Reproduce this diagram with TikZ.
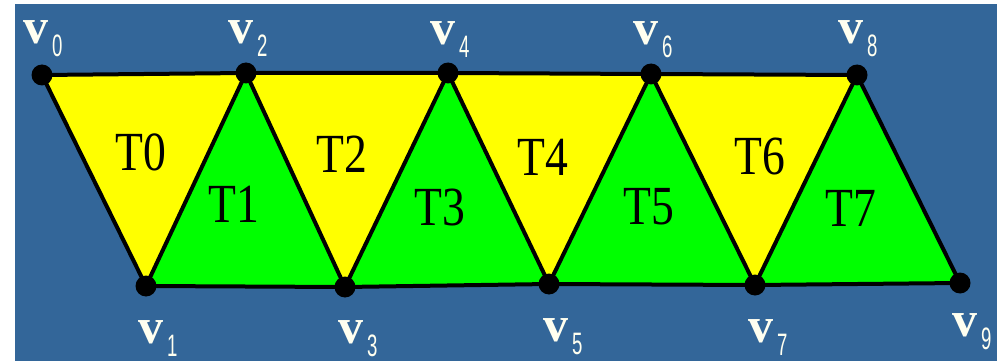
\documentclass[tikz,border=0pt]{standalone}
\usepackage{fontspec}
\setmainfont{Liberation Serif}
\newfontfamily\subfnt{Liberation Sans}
\definecolor{bg}{HTML}{336699}
\definecolor{tyel}{HTML}{FFFF00}
\definecolor{tgrn}{HTML}{00FF00}
\definecolor{lbl}{HTML}{FFFFF0}
\tikzset{
  vdot/.style={circle,fill=black,minimum size=21pt,inner sep=0pt},
  edge/.style={draw=black,line width=4pt,line join=round,line cap=round},
  tlabel/.style={inner sep=0pt,font=\fontsize{48}{48}\selectfont},
  vlabel/.style={inner sep=0pt,anchor=base west,text=lbl,font=\fontsize{50}{50}\selectfont\bfseries}
}
\newcommand{\vl}[1]{v\hspace{4pt}\raisebox{-13pt}{\subfnt\mdseries\fontsize{31}{31}\selectfont\scalebox{0.6}[1]{#1}}}
\newcommand{\tl}[1]{\scalebox{0.95}[1.15]{#1}}
\begin{document}
\begin{tikzpicture}[x=1pt,y=-1pt]
\useasboundingbox (0,0) rectangle (997,361);
\fill[white] (0,0) rectangle (997,361);
\fill[bg] (15,4) rectangle (997,361);
% vertices
\coordinate (p0) at (42,75);
\coordinate (p2) at (246,73);
\coordinate (p4) at (448,73);
\coordinate (p6) at (651,74);
\coordinate (p8) at (857,75);
\coordinate (p1) at (146,286);
\coordinate (p3) at (345,287);
\coordinate (p5) at (549,284);
\coordinate (p7) at (755,285);
\coordinate (p9) at (960,283);
% triangles
\fill[tyel] (p0) -- (p2) -- (p1) -- cycle;
\fill[tgrn] (p2) -- (p1) -- (p3) -- cycle;
\fill[tyel] (p2) -- (p4) -- (p3) -- cycle;
\fill[tgrn] (p4) -- (p3) -- (p5) -- cycle;
\fill[tyel] (p4) -- (p6) -- (p5) -- cycle;
\fill[tgrn] (p6) -- (p5) -- (p7) -- cycle;
\fill[tyel] (p6) -- (p8) -- (p7) -- cycle;
\fill[tgrn] (p8) -- (p7) -- (p9) -- cycle;
% edges
\draw[edge] (p0) -- (p2) -- (p4) -- (p6) -- (p8);
\draw[edge] (p1) -- (p3) -- (p5) -- (p7) -- (p9);
\draw[edge] (p0) -- (p1) -- (p2) -- (p3) -- (p4) -- (p5) -- (p6) -- (p7) -- (p8) -- (p9);
% dots
\foreach \i in {0,...,9} { \node[vdot] (d\i) at (p\i) {}; }
% triangle labels
\node[tlabel] (t0) at (141,152) {\tl{T0}};
\node[tlabel] (t1) at (234,204) {\tl{T1}};
\node[tlabel] (t2) at (342,154) {\tl{T2}};
\node[tlabel] (t3) at (440,207) {\tl{T3}};
\node[tlabel] (t4) at (543,157) {\tl{T4}};
\node[tlabel] (t5) at (649,207) {\tl{T5}};
\node[tlabel] (t6) at (760,156) {\tl{T6}};
\node[tlabel] (t7) at (851,208) {\tl{T7}};
% vertex labels
\node[vlabel] (l0) at (23,44) {\vl{0}};
\node[vlabel] (l2) at (228,44) {\vl{2}};
\node[vlabel] (l4) at (430,45) {\vl{4}};
\node[vlabel] (l6) at (633,45) {\vl{6}};
\node[vlabel] (l8) at (838,44) {\vl{8}};
\node[vlabel] (l1) at (138,343) {\vl{1}};
\node[vlabel] (l3) at (338,343) {\vl{3}};
\node[vlabel] (l5) at (543,341) {\vl{5}};
\node[vlabel] (l7) at (748,342) {\vl{7}};
\node[vlabel] (l9) at (952,336) {\vl{9}};
\end{tikzpicture}
\end{document}
